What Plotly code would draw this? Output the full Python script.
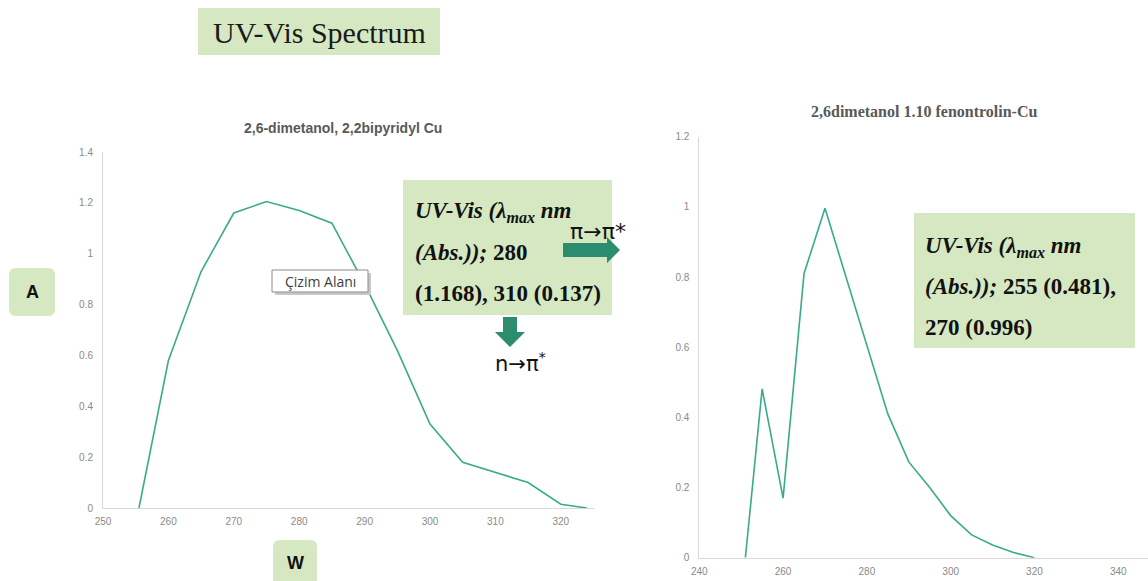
import plotly.graph_objects as go

W, H = 1148, 581

# left spectrum: 2,6-dimetanol, 2,2bipyridyl Cu
bipy_wl = [255.5, 260, 265, 270, 275, 280, 285, 290, 295, 300, 305, 310, 315, 320, 324]
bipy_abs = [0, 0.58, 0.93, 1.16, 1.205, 1.17, 1.12, 0.88, 0.62, 0.33, 0.18, 0.14, 0.10, 0.015, 0]

# right spectrum: 2,6dimetanol 1.10 fenontrolin-Cu
phen_wl = [251, 255, 260, 265, 270, 275, 280, 285, 290, 295, 300, 305, 310, 315, 320]
phen_abs = [0, 0.481, 0.17, 0.81, 0.996, 0.80, 0.60, 0.41, 0.273, 0.20, 0.12, 0.065, 0.036, 0.015, 0]

left_title = "2,6-dimetanol, 2,2bipyridyl Cu"
right_title = "2,6dimetanol 1.10 fenontrolin-Cu"

LINE = "#3aaa8c"
BOX = "rgb(213,232,194)"
ARROW = "#2b8c6e"
AXIS = "#d9d9d9"
TICK = dict(family="Liberation Sans", size=10, color="#8a8a8a")


def px(x):
    return x / W


def py(y):
    return 1 - y / H


def rect(x0, y0, x1, y1, fill, line=None):
    return dict(type="rect", xref="paper", yref="paper",
                x0=px(x0), x1=px(x1), y0=py(y1), y1=py(y0),
                fillcolor=fill, line=dict(width=1 if line else 0, color=line or fill),
                layer="above")


def rounded(x0, y0, x1, y1, r, fill):
    pts = (f"M {px(x0 + r)} {py(y0)} L {px(x1 - r)} {py(y0)} "
           f"Q {px(x1)} {py(y0)} {px(x1)} {py(y0 + r)} L {px(x1)} {py(y1 - r)} "
           f"Q {px(x1)} {py(y1)} {px(x1 - r)} {py(y1)} L {px(x0 + r)} {py(y1)} "
           f"Q {px(x0)} {py(y1)} {px(x0)} {py(y1 - r)} L {px(x0)} {py(y0 + r)} "
           f"Q {px(x0)} {py(y0)} {px(x0 + r)} {py(y0)} Z")
    return dict(type="path", xref="paper", yref="paper", path=pts,
                fillcolor=fill, line=dict(width=0), layer="above")


def poly(points, fill):
    p = "M " + " L ".join(f"{px(x)} {py(y)}" for x, y in points) + " Z"
    return dict(type="path", xref="paper", yref="paper", path=p,
                fillcolor=fill, line=dict(width=0), layer="above")


def text(x, y, s, size, family="Liberation Sans", color="#000", xanchor="center"):
    return dict(xref="paper", yref="paper", x=px(x), y=py(y), text=s,
                showarrow=False, xanchor=xanchor, yanchor="middle",
                font=dict(family=family, size=size, color=color))


fig = go.Figure()
fig.add_trace(go.Scatter(x=bipy_wl, y=bipy_abs, mode="lines",
                         line=dict(color=LINE, width=1.6),
                         xaxis="x", yaxis="y", hoverinfo="skip"))
fig.add_trace(go.Scatter(x=phen_wl, y=phen_abs, mode="lines",
                         line=dict(color=LINE, width=1.6),
                         xaxis="x2", yaxis="y2", hoverinfo="skip"))

ax = dict(showline=True, linecolor=AXIS, linewidth=1, showgrid=False,
          zeroline=False, ticks="", tickfont=TICK, fixedrange=True,
          automargin=False)

serif = "Liberation Serif"
shapes = [
    rect(198, 8, 440, 55, BOX),
    rounded(9, 268, 55, 316, 7, BOX),
    rounded(273, 540, 317, 600, 7, BOX),
    rect(275, 273, 371, 295, "#c8c8c8"),
    rect(272, 270, 368, 292, "white", "#8c8c8c"),
    rect(403, 180, 612, 315, BOX),
    rect(914, 213, 1135, 348, BOX),
    poly([(563, 243), (607, 243), (607, 237), (620, 250), (607, 263), (607, 257), (563, 257)], ARROW),
    poly([(503, 317), (517, 317), (517, 332), (525, 332), (510, 347), (495, 332), (503, 332)], ARROW),
]

annotations = [
    text(319, 32, "UV-Vis Spectrum", 30, serif, "#1a1a1a"),
    text(32, 292, "<b>A</b>", 18, "Liberation Sans", "#111"),
    text(295, 563, "<b>W</b>", 18, "Liberation Sans", "#111"),
    text(320, 281, "Çizim Alanı", 14, "Open Sans", "#404040"),
    text(343, 128, f"<b>{left_title}</b>", 14, "Liberation Sans", "#595959"),
    text(924, 112, f"<b>{right_title}</b>", 16, serif, "#595959"),
    text(413, 212, "<b><i>UV-Vis (λ<sub>max</sub> nm</i></b>", 23, serif, "#111", "left"),
    text(413, 253, "<b><i>(Abs.));</i> 280</b>", 23, serif, "#111", "left"),
    text(413, 293, "<b>(1.168), 310 (0.137)</b>", 23, serif, "#111", "left"),
    text(923, 247, "<b><i>UV-Vis (λ<sub>max</sub> nm</i></b>", 23, serif, "#111", "left"),
    text(923, 287, "<b><i>(Abs.));</i> 255 (0.481),</b>", 23, serif, "#111", "left"),
    text(923, 327, "<b>270 (0.996)</b>", 23, serif, "#111", "left"),
    text(598, 232, "π→π*", 22, "DejaVu Sans", "#111"),
    text(520, 362, "n→π<sup>*</sup>", 21, "DejaVu Sans", "#111"),
]

fig.update_layout(
    width=W, height=H,
    margin=dict(l=0, r=0, t=0, b=0),
    paper_bgcolor="white", plot_bgcolor="white",
    showlegend=False,
    xaxis=dict(ax, domain=[px(103), px(593.5)], range=[250, 325], dtick=10,
               anchor="y", ticklabelstandoff=4),
    yaxis=dict(ax, domain=[py(508), py(152)], range=[0, 1.4], dtick=0.2,
               anchor="x", ticklabelstandoff=7),
    xaxis2=dict(ax, domain=[px(699.3), 1], range=[240, 347.1], dtick=20,
                anchor="y2", ticklabelstandoff=4),
    yaxis2=dict(ax, domain=[py(557.7), py(136.7)], range=[0, 1.2], dtick=0.2,
                anchor="x2", ticklabelstandoff=7),
    shapes=shapes,
    annotations=annotations,
)

fig.write_html("out.html", config={"displayModeBar": False},
               post_script="document.body.style.margin='0';")
